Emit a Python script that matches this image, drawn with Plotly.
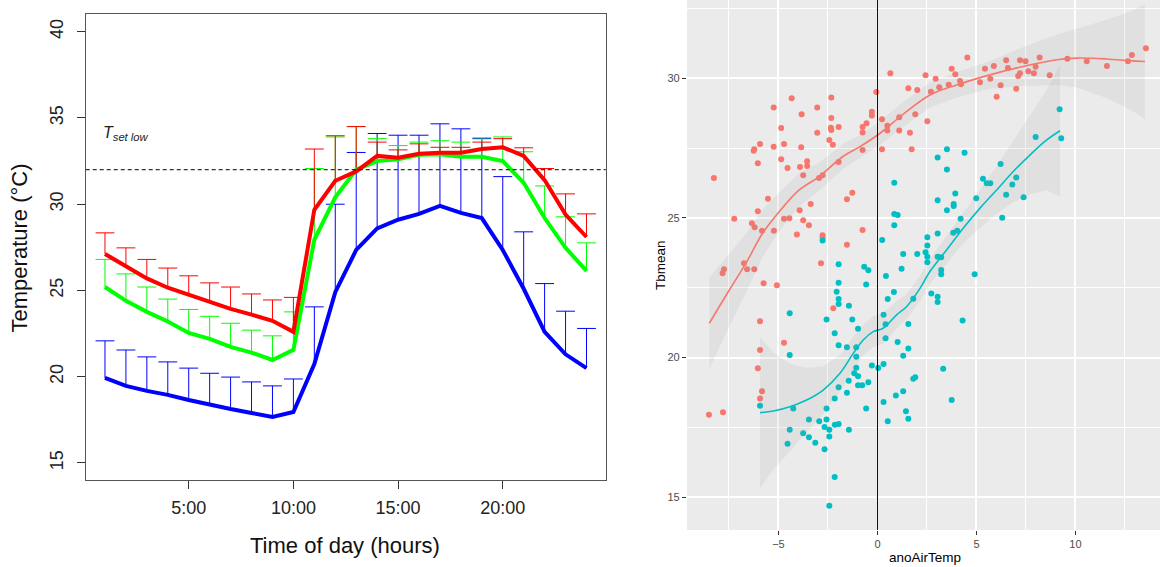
import plotly.graph_objects as go

# ---------------- left panel: hourly means with upper error bars ----------------
hours = [1, 2, 3, 4, 5, 6, 7, 8, 9, 10, 11, 12,
         13, 14, 15, 16, 17, 18, 19, 20, 21, 22, 23, 24]
hour_ticks = [5, 10, 15, 20]
hour_labels = ["5:00", "10:00", "15:00", "20:00"]

red_mean = [27.12, 26.40, 25.70, 25.16, 24.74, 24.30, 23.93, 23.60, 23.24, 22.60, 29.68, 31.36,
            31.90, 32.80, 32.70, 32.92, 32.98, 32.98, 33.20, 33.30, 32.80, 31.40, 29.40, 28.10]
red_upper = [28.34, 27.47, 26.80, 26.30, 25.85, 25.44, 25.20, 24.80, 24.45, 24.60, 33.20, 33.97,
             34.50, 33.60, 33.15, 33.50, 33.30, 33.30, 33.60, 33.80, 33.27, 32.07, 30.60, 29.44]
green_mean = [25.20, 24.40, 23.76, 23.20, 22.54, 22.20, 21.73, 21.40, 20.97, 21.56, 27.94, 30.40,
              32.00, 32.50, 32.60, 32.87, 32.90, 32.75, 32.75, 32.50, 31.24, 29.20, 27.47, 26.14]
green_upper = [26.80, 25.96, 25.20, 24.50, 23.90, 23.50, 23.10, 22.70, 22.37, 23.76, 32.07, 33.90,
               34.50, 33.80, 33.40, 33.60, 33.68, 33.60, 33.85, 33.90, 33.04, 31.06, 29.27, 27.76]
blue_mean = [19.93, 19.47, 19.18, 18.95, 18.65, 18.37, 18.13, 17.90, 17.67, 17.96, 20.74, 24.90,
             27.35, 28.60, 29.10, 29.44, 29.90, 29.50, 29.20, 27.35, 25.10, 22.60, 21.30, 20.50]
blue_upper = [22.08, 21.55, 21.15, 20.86, 20.50, 20.20, 19.98, 19.70, 19.47, 19.87, 24.05, 30.00,
              33.00, 34.10, 34.00, 34.00, 34.66, 34.37, 33.80, 31.60, 28.40, 25.40, 23.80, 22.80]
t_set_low = 32

# ---------------- right panel: Tbmean vs anoAirTemp ----------------
red_x = [-8.26, -7.23, -7.75, -7.82, -6.74, -6.58, -6.22, -6.34, -6.20, -6.04, -5.83, -5.75,
         -5.08, -5.53, -5.23, -6.04, -6.22, -6.25, -5.93, -5.24, -5.24, -4.86, -4.72, -4.86,
         -4.54, -4.72, -4.45, -4.33, -4.07, -3.93, -3.75, -3.46, -3.37, -3.83, -3.85, -3.91,
         -3.75, -3.55, -3.55, -3.04, -3.04, -2.95, -2.77, -2.85, -2.77, -2.77, -2.43, -2.33,
         -2.33, -2.35, -2.33, -2.25, -1.96, -1.96, -1.54, -1.27, -1.54, -0.75, -0.75, -0.75,
         -0.55, -0.75, -0.28, -0.28, -0.06, 0.23, 0.23, 0.50, 0.50, 0.65, 1.10, 1.10,
         -2.23, -5.93, -4.72, -5.93, -6.04, -5.83, -5.93, -8.51, -7.80,
         2.43, 2.94, 1.56, 2.01, 2.70, 3.12, 3.75, 3.93, 3.60, 4.17, 4.22, 4.54,
         5.18, 5.43, 5.70, 5.88, 6.02, 6.22, 6.50, 6.59, 7.01, 7.11, 7.20, 7.20,
         7.48, 7.62, 7.90, 7.99, 8.19, 8.70, 9.59, 10.57, 11.59, 12.65, 12.85, 13.56,
         1.91, 1.64, 2.52, 1.73]
red_y = [26.43, 24.97, 23.16, 23.02, 23.38, 23.16, 23.16, 24.81, 24.67, 25.24, 24.54, 22.66,
         22.59, 25.69, 24.54, 26.96, 27.46, 27.40, 27.65, 27.55, 28.95, 28.22, 27.65, 27.10,
         26.79, 24.97, 24.99, 29.28, 24.41, 25.27, 24.92, 24.74, 25.50, 28.71, 27.53, 26.82,
         26.53, 27.03, 26.86, 28.95, 28.05, 26.43, 26.53, 23.38, 24.38, 24.30, 27.79, 29.31,
         28.58, 28.23, 28.15, 27.62, 28.25, 27.00, 25.67, 25.90, 24.04, 24.57, 28.25, 28.06,
         28.39, 27.43, 28.80, 28.67, 29.51, 28.53, 27.46, 28.30, 28.13, 30.18, 28.60, 28.13,
         21.77, 21.30, 20.53, 20.27, 19.62, 18.80, 18.54, 17.95, 18.04,
         30.11, 29.98, 29.64, 29.58, 29.52, 29.68, 30.34, 30.14, 29.77, 29.90, 29.78, 30.74,
         29.86, 30.34, 29.98, 30.44, 29.34, 29.75, 30.64, 30.37, 29.62, 30.08, 30.18, 30.64,
         30.61, 30.25, 30.18, 30.41, 30.74, 30.11, 30.70, 30.61, 30.44, 30.61, 30.83, 31.07,
         28.71, 28.05, 28.46, 27.46]

teal_x = [0.85, 0.85, 1.02, 0.85, 0.24, -2.77, -1.96, -0.67, -0.46, 0.43, -1.96, -0.57,
          -2.06, -1.96, -1.96, -1.44, -4.43, -2.57, -1.27, -2.16, -0.98, -1.96, -1.54, -1.07,
          -1.07, -4.43, -1.07, -1.17, -0.98, -0.28, 0.04, 0.31, -0.98, -0.77, -0.46, -1.96,
          -1.54, -2.16, -5.93, -4.25, -2.57, -0.57, 0.31, -3.46, -2.94, -2.57, 0.52, -2.67,
          -2.43, -2.15, -1.96, -1.44, -4.43, -3.75, -3.46, -2.43, -3.14, -4.54, -2.67, -2.16,
          -2.43, -1.45,
          0.83, 1.81, 2.72, 3.04, 3.04, 1.56, 4.30, 1.02, 1.56, 1.30, 3.32, 1.81,
          1.91, 0.93, 1.30, 3.75, 1.44, 1.56,
          9.20, 9.28, 7.99, 3.51, 3.04, 4.40, 3.51, 6.22, 5.33, 5.52, 5.70, 7.01,
          6.81, 6.50, 7.38, 4.99, 3.93, 3.04, 3.85, 3.85, 3.51, 4.20, 6.30, 3.83,
          4.03, 3.04, 2.52, 2.52, 1.30, 2.01, 2.43, 2.52, 3.04, 3.22, 2.52, 1.22,
          3.22, 3.22, 4.91,
          0.52, 0.31, 0.41, 0.41]
teal_y = [26.26, 25.14, 25.10, 24.74, 24.21, 24.19, 23.34, 23.25, 23.13, 22.92, 22.68, 22.62,
          22.36, 22.10, 21.92, 21.86, 21.59, 21.36, 21.36, 20.87, 21.03, 20.44, 20.37, 20.37,
          20.03, 20.09, 19.64, 19.44, 19.33, 19.72, 19.63, 19.77, 19.01, 19.01, 19.12, 18.94,
          18.74, 18.54, 18.28, 18.18, 18.18, 18.18, 18.41, 17.78, 17.72, 17.78, 17.72, 17.52,
          17.42, 17.60, 17.62, 17.42, 17.42, 17.29, 17.15, 17.18, 16.95, 16.92, 16.72, 15.73,
          14.70, 19.17,
          22.35, 22.11, 22.29, 22.18, 21.99, 21.20, 21.33, 20.56, 20.33, 20.07, 19.60, 19.24,
          19.30, 18.64, 18.80, 18.48, 18.08, 17.81,
          28.89, 27.85, 27.90, 27.46, 27.16, 27.33, 26.73, 26.93, 26.40, 26.24, 26.24, 26.45,
          26.20, 25.83, 25.74, 25.70, 25.87, 25.63, 25.50, 25.43, 25.27, 24.97, 25.01, 24.47,
          24.54, 24.44, 24.31, 24.01, 23.71, 23.71, 23.77, 23.61, 23.61, 23.59, 23.41, 23.18,
          23.14, 22.98, 22.98,
          22.10, 21.53, 21.19, 20.69]

# loess fits, with their half band widths
red_fit_x = [-8.49, -7.48, -6.64, -5.80, -4.96, -3.95, -2.94, -1.76, -0.88, 0.13,
             1.14, 2.65, 4.00, 5.68, 7.36, 9.05, 10.06, 11.57, 12.75, 13.51]
red_fit_y = [21.23, 22.42, 23.38, 24.45, 25.22, 26.00, 26.48, 27.19, 27.55, 28.03,
             28.62, 29.40, 29.76, 30.12, 30.42, 30.66, 30.72, 30.69, 30.63, 30.60]
red_fit_se = [1.65, 1.30, 1.05, 0.85, 0.70, 0.60, 0.50, 0.45, 0.42, 0.42,
              0.45, 0.45, 0.45, 0.50, 0.70, 0.90, 1.05, 1.40, 1.75, 2.05]
teal_fit_x = [-5.93, -5.26, -4.42, -3.58, -2.74, -1.89, -1.22, -0.72, -0.21, 0.29, 0.97,
              1.47, 2.15, 2.65, 3.49, 4.33, 5.18, 6.02, 6.86, 7.70, 8.55, 9.22]
teal_fit_y = [18.03, 18.09, 18.24, 18.48, 18.84, 19.44, 20.15, 20.63, 20.93, 21.05, 21.53,
              21.82, 22.48, 23.08, 23.85, 24.63, 25.35, 26.00, 26.66, 27.25, 27.79, 28.12]
teal_fit_se = [2.70, 2.10, 1.55, 1.15, 0.85, 0.65, 0.60, 0.55, 0.55, 0.55, 0.50,
               0.45, 0.45, 0.45, 0.50, 0.55, 0.70, 0.85, 1.10, 1.40, 1.80, 2.35]

fig = go.Figure()

# error bars: vertical stem from the mean to the upper value plus a cap
def err_segments(means, uppers, half=0.45):
    xs, ys = [], []
    for h, m, u in zip(hours, means, uppers):
        xs += [h, h, None, h - half, h + half, None]
        ys += [m, u, None, u, u, None]
    return xs, ys

for means, uppers, col in [(blue_mean, blue_upper, "#0000FF"),
                           (green_mean, green_upper, "#00FF00"),
                           (red_mean, red_upper, "#FF0000")]:
    ex, ey = err_segments(means, uppers)
    fig.add_trace(go.Scatter(x=ex, y=ey, mode="lines", line=dict(color=col, width=1),
                             xaxis="x", yaxis="y", showlegend=False, hoverinfo="skip"))

for means, col in [(blue_mean, "#0000FF"), (green_mean, "#00FF00"), (red_mean, "#FF0000")]:
    fig.add_trace(go.Scatter(x=hours, y=means, mode="lines", line=dict(color=col, width=4),
                             xaxis="x", yaxis="y", showlegend=False))

# right panel points
fig.add_trace(go.Scatter(x=red_x, y=red_y, mode="markers", xaxis="x2", yaxis="y2",
                         marker=dict(color="#F8766D", size=6), showlegend=False))
fig.add_trace(go.Scatter(x=teal_x, y=teal_y, mode="markers", xaxis="x2", yaxis="y2",
                         marker=dict(color="#00BFC4", size=6), showlegend=False))

# ribbons and smooth lines
for fx, fy, fse in [(red_fit_x, red_fit_y, red_fit_se), (teal_fit_x, teal_fit_y, teal_fit_se)]:
    upper = [y + s for y, s in zip(fy, fse)]
    lower = [y - s for y, s in zip(fy, fse)]
    fig.add_trace(go.Scatter(x=fx + fx[::-1], y=upper + lower[::-1], fill="toself",
                             fillcolor="rgba(150,150,150,0.12)", line=dict(width=0),
                             mode="lines", xaxis="x2", yaxis="y2",
                             showlegend=False, hoverinfo="skip"))
for fx, fy, col in [(red_fit_x, red_fit_y, "#F8766D"), (teal_fit_x, teal_fit_y, "#00BFC4")]:
    fig.add_trace(go.Scatter(x=fx, y=fy, mode="lines", line=dict(color=col, width=1.6, shape="spline"),
                             xaxis="x2", yaxis="y2", showlegend=False))

font = "Liberation Sans, Arial, sans-serif"

fig.update_layout(
    width=1160, height=567,
    margin=dict(l=0, r=0, t=0, b=0),
    paper_bgcolor="white", plot_bgcolor="white",
    font=dict(family=font),
    xaxis=dict(domain=[0.0739, 0.5222], range=[0.08, 24.92], anchor="y",
               tickvals=hour_ticks, ticktext=hour_labels,
               ticks="outside", ticklen=8, tickcolor="#333", ticklabelstandoff=3,
               tickfont=dict(size=18, color="#222"),
               showline=True, linecolor="#555", linewidth=1.3, mirror=True,
               showgrid=False, zeroline=False),
    yaxis=dict(domain=[0.1530, 0.9745], range=[14, 41], anchor="x",
               tickvals=[15, 20, 25, 30, 35, 40], tickangle=-90,
               ticks="outside", ticklen=8, tickcolor="#333", ticklabelstandoff=6,
               tickfont=dict(size=18, color="#222"),
               showline=True, linecolor="#555", linewidth=1.3, mirror=True,
               showgrid=False, zeroline=False),
    xaxis2=dict(domain=[0.5922, 1.0], range=[-9.62, 14.27], anchor="y2",
                tickvals=[-5, 0, 5, 10], ticks="outside", ticklen=4, tickcolor="#333",
                tickfont=dict(size=11, color="#4D4D4D"),
                showgrid=True, gridcolor="white", gridwidth=1.5, zeroline=False,
                minor=dict(tickvals=[-7.5, -2.5, 2.5, 7.5, 12.5], showgrid=True,
                           gridcolor="white", gridwidth=0.7)),
    yaxis2=dict(domain=[0.0653, 1.0], range=[13.83, 32.80], anchor="x2",
                tickvals=[15, 20, 25, 30], ticks="outside", ticklen=4, tickcolor="#333",
                tickfont=dict(size=11, color="#4D4D4D"),
                showgrid=True, gridcolor="white", gridwidth=1.5, zeroline=False,
                minor=dict(tickvals=[17.5, 22.5, 27.5, 32.5], showgrid=True,
                           gridcolor="white", gridwidth=0.7)),
    shapes=[
        dict(type="rect", xref="x2 domain", yref="y2 domain", x0=0, x1=1, y0=0, y1=1,
             fillcolor="#EBEBEB", line=dict(width=0), layer="below"),
        dict(type="line", xref="x domain", yref="y", x0=0, x1=1, y0=t_set_low, y1=t_set_low,
             line=dict(color="black", width=1, dash="4px,3px")),
        dict(type="line", xref="x2", yref="y2 domain", x0=0, x1=0, y0=0, y1=1,
             line=dict(color="black", width=1)),
    ],
    annotations=[
        dict(text="<i>T</i><sub><i>set low</i></sub>", xref="x", yref="y", x=0.82, y=34.1,
             xanchor="left", yanchor="middle", showarrow=False, font=dict(size=16, color="#222")),
        dict(text="Temperature (°C)", xref="paper", yref="paper", x=0.0172, y=0.5635,
             xanchor="center", yanchor="middle",
             textangle=-90, showarrow=False, font=dict(size=22, color="#111")),
        dict(text="Time of day (hours)", xref="paper", yref="paper", x=0.2978, y=0.0388,
             xanchor="center", yanchor="middle",
             showarrow=False, font=dict(size=22, color="#111")),
        dict(text="Tbmean", xref="paper", yref="paper", x=0.569, y=0.5326,
             xanchor="center", yanchor="middle",
             textangle=-90, showarrow=False, font=dict(size=13.5, color="black")),
        dict(text="anoAirTemp", xref="paper", yref="paper", x=0.797, y=0.0176,
             xanchor="center", yanchor="middle",
             showarrow=False, font=dict(size=13.5, color="black")),
    ],
)

fig.write_html("out.html", config={"displayModeBar": False},
               post_script="document.body.style.margin='0';")
